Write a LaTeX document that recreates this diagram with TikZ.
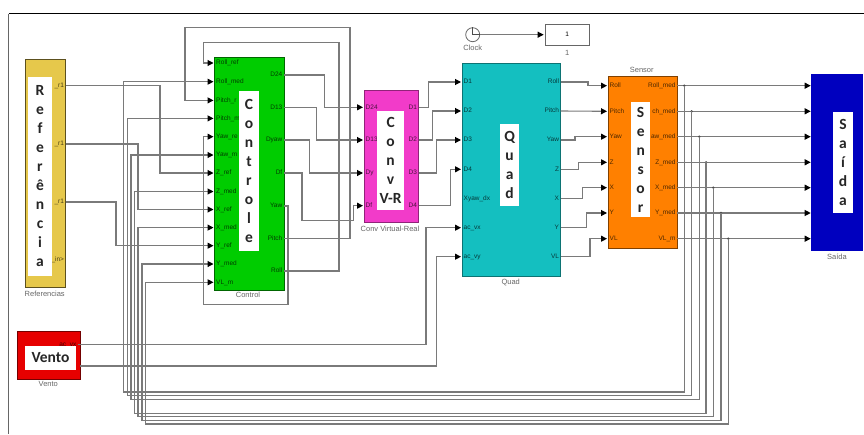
\documentclass[tikz,border=0pt]{standalone}
\usepackage{fontspec}
\setmainfont{Liberation Sans}
\newfontfamily\bigfont{Carlito}
\usetikzlibrary{arrows.meta}
\definecolor{cYel}{HTML}{E6C84B}
\definecolor{cGrn}{HTML}{00CC00}
\definecolor{cMag}{HTML}{F23BC9}
\definecolor{cTea}{HTML}{14BFC0}
\definecolor{cOra}{HTML}{FF8000}
\definecolor{cBlu}{HTML}{0000BF}
\definecolor{cRed}{HTML}{E60000}
\newcommand\blk[7]{% name, fill, x1,y1,x2,y2, edge
  \pgfmathsetmacro\bw{#5-#3}\pgfmathsetmacro\bh{#6-#4}
  \pgfmathsetmacro\bx{(#3+#5)/2}\pgfmathsetmacro\by{(#4+#6)/2}
  \node[blockbox,fill=#2,draw=#7,minimum width=\bw pt,minimum height=\bh pt] (#1) at (\bx,\by) {};}
\newcommand\wht[6]{% name, x1,y1,x2,y2, text
  \pgfmathsetmacro\bw{#4-#2}\pgfmathsetmacro\bh{#5-#3}
  \pgfmathsetmacro\bx{(#2+#4)/2}\pgfmathsetmacro\by{(#3+#5)/2}
  \node[whitebox,minimum width=\bw pt,minimum height=\bh pt,text width=\bw pt] (#1) at (\bx,\by) {#6};}
\newcommand\hvh[3]{\coordinate (chan) at (#2,0);\draw[wire] (#1) -| (chan |- #3) -- (#3);}
\newcommand\fbk[5]{% output, x, ybottom, xleft, port
  \coordinate (chanA) at (#2,#3);\coordinate (chanB) at (#4,#3);
  \fill[black!70] (chanA |- #1) circle (1.3);
  \draw[wire] (chanA |- #1) -- (chanA) -- (chanB) -- (chanB |- #5) -- (#5);}
\tikzset{
  blockbox/.style={inner sep=0,line width=0.8},
  whitebox/.style={fill=white,inner sep=0,align=center,font=\bigfont\bfseries\fontsize{15.5}{19}\selectfont,text=black!85},
  wire/.style={draw=black!52,line width=1.1,-{Triangle[length=6pt,width=6pt,color=black]},shorten >=1pt,line join=miter},
  portl/.style={anchor=west,inner ysep=0,inner xsep=1.5pt,font=\fontsize{6.5}{7}\selectfont,text height=4.6pt,text depth=1.2pt},
  portr/.style={anchor=east,inner ysep=0,inner xsep=1.5pt,font=\fontsize{6.5}{7}\selectfont,text height=4.6pt,text depth=1.2pt},
  title/.style={inner sep=0,font=\fontsize{7.5}{8}\selectfont,text=black!60},
}
\begin{document}
\begin{tikzpicture}[x=1pt,y=-1pt]
\useasboundingbox (0,0) rectangle (864,434);
\coordinate (fa) at (864,13.5);\coordinate (fb) at (8.7,13.5);\coordinate (fc) at (8.7,434);
\draw[black,line width=1] (fa) -- (fb);
\draw[black!60,line width=1] (fb) -- (fc);

% blocks
\blk{ref}{cYel}{25.3}{59.3}{65.7}{287.7}{black!60!cYel}
\blk{ven}{cRed}{17.7}{331.7}{80}{379}{black!50!cRed}
\blk{ctl}{cGrn}{214.5}{57}{284}{290}{black!50!cGrn}
\blk{cnv}{cMag}{364}{90.7}{418.7}{222.3}{black!40!cMag}
\blk{qua}{cTea}{462}{63.3}{560.7}{276}{black!40!cTea}
\blk{sen}{cOra}{608}{76}{677.3}{248.3}{black!50!cOra}
\blk{sai}{cBlu}{811.7}{74.3}{862.7}{250}{cBlu}

% port labels
\foreach \n/\y/\t in {r1/85.5/\_r1,r2/144/\_r1,r3/202/\_r1,r4/260/\_in>}
  \node[portr,text=black!70!cYel] (\n) at (65.7,\y) {\t};
\node[portr,text=black!70!cRed] (v1) at (78,344.5) {ac\_vx};
\coordinate (v2) at (80,366);
\foreach \n/\y/\t in {ci1/63/Roll\_ref,ci2/81.7/Roll\_med,ci3/100.4/Pitch\_r,ci4/118.4/Pitch\_m,ci5/136.7/Yaw\_re,ci6/155/Yaw\_m,ci7/173/Z\_ref,ci8/191.5/Z\_med,ci9/209.5/X\_ref,ci10/227.6/X\_med,ci11/245.7/Y\_ref,ci12/264/Y\_med,ci13/282.3/VL\_m}
  \node[portl,text=black!70!cGrn] (\n) at (214.5,\y) {\t};
\foreach \n/\y/\t in {co1/75/D24,co2/107.3/D13,co3/140/Dyaw,co4/173/Df,co5/206/Yaw,co6/238.5/Pitch,co7/271/Roll}
  \node[portr,text=black!70!cGrn] (\n) at (284,\y) {\t};
\foreach \n/\y/\t in {ni1/107.3/D24,ni2/140/D13,ni3/173/Dy,ni4/205.7/Df}
  \node[portl,text=black!70!cMag] (\n) at (364,\y) {\t};
\foreach \n/\y/\t in {no1/107.3/D1,no2/140/D2,no3/173/D3,no4/205.7/D4}
  \node[portr,text=black!70!cMag] (\n) at (418.7,\y) {\t};
\foreach \n/\y/\t in {qi1/82/D1,qi2/111/D2,qi3/140/D3,qi4/169.3/D4,qi5/198.7/Xyaw\_dx,qi6/227.7/ac\_vx,qi7/256.7/ac\_vy}
  \node[portl,text=black!70!cTea] (\n) at (462,\y) {\t};
\foreach \n/\y/\t in {qo1/82/Roll,qo2/111/Pitch,qo3/140/Yaw,qo4/169.3/Z,qo5/198.7/X,qo6/227.7/Y,qo7/256.7/VL}
  \node[portr,text=black!70!cTea] (\n) at (560.7,\y) {\t};
\foreach \n/\y/\t in {si1/85.7/Roll,si2/111.3/Pitch,si3/136.7/Yaw,si4/162.3/Z,si5/187.7/X,si6/213/Y,si7/238.7/VL}
  \node[portl,text=black!70!cOra] (\n) at (608,\y) {\t};
\foreach \n/\y/\t in {so1/85.7/Roll\_med,so2/111.3/ch\_med,so3/136.7/aw\_med,so4/162.3/Z\_med,so5/187.7/X\_med,so6/213/Y\_med,so7/238.7/VL\_m}
  \node[portr,text=black!70!cOra] (\n) at (677.3,\y) {\t};
\foreach \n/\y in {ai1/85.7,ai2/111.3,ai3/136.7,ai4/162.3,ai5/187.7,ai6/213,ai7/238.7}
  \coordinate (\n) at (811.7,\y);

% white captions
\wht{wref}{28.3}{77.3}{51.7}{275.7}{R\\e\\f\\e\\r\\ê\\n\\c\\i\\a}
\wht{wven}{25}{346}{76}{370}{Vento}
\wht{wctl}{239}{91.3}{259}{250.7}{C\\o\\n\\t\\r\\o\\l\\e}
\wht{wcnv}{377.3}{110.7}{404}{210}{C\\o\\n\\v\\V-R}
\wht{wqua}{500}{124.3}{519.3}{206}{Q\\u\\a\\d}
\wht{wsen}{631}{101.7}{650.3}{217.3}{S\\e\\n\\s\\o\\r}
\wht{wsai}{833.3}{112}{852.7}{212.7}{S\\a\\í\\d\\a}

% block titles
\node[title] (tref) at (44.7,293.7) {Referencias};
\node[title] (tven) at (48.3,384) {Vento};
\node[title] (tctl) at (248,295.3) {Control};
\node[title] (tcnv) at (390,229) {Conv Virtual-Real};
\node[title] (tqua) at (510.7,282) {Quad};
\node[title] (tsen) at (641.7,70) {Sensor};
\node[title] (tsai) at (837,256.7) {Saída};

% clock and display
\node[circle,draw=black!60,fill=white,line width=0.8,minimum size=14pt,inner sep=0] (clk) at (472.7,34.7) {};
\draw[black!70,line width=0.6] (clk.north) -- (clk.center) -- (clk.east);
\node[title] (tclk) at (472.7,48) {Clock};
\node[draw=black!60,fill=white,line width=0.8,minimum width=44.3pt,minimum height=21.3pt,inner sep=0,font=\fontsize{6.5}{7}\selectfont] (dsp) at (567.2,34.7) {1};
\node[title] (tdsp) at (567.2,52.5) {1};
\draw[wire] (clk.east) -- (dsp.west);

% reference wires
\hvh{r1.east}{160}{ci7.west}
\hvh{r2.east}{138}{ci9.west}
\hvh{r3.east}{116}{ci11.west}

% control to converter
\hvh{co1.east}{324.3}{ni1.west}
\hvh{co2.east}{316.7}{ni2.west}
\hvh{co3.east}{309.3}{ni3.west}
\coordinate (dfa) at (302,220.7);\coordinate (dfb) at (353.3,220.7);
\draw[wire] (co4.east) -- (dfa |- co4.east) -- (dfa) -- (dfb) -- (dfb |- ni4.west) -- (ni4.west);

% control loop-backs
\coordinate (ya) at (288,304.7);\coordinate (yb) at (203.3,304.7);
\draw[wire] (co5.east) -- (ya |- co5.east) -- (ya) -- (yb) -- (yb |- ci5.west) -- (ci5.west);
\coordinate (pa) at (350,27.7);\coordinate (pb) at (185,27.7);
\draw[wire] (co6.east) -- (pa |- co6.east) -- (pa) -- (pb) -- (pb |- ci3.west) -- (ci3.west);
\coordinate (ra) at (339,42.3);\coordinate (rb) at (203.3,42.3);
\draw[wire] (co7.east) -- (ra |- co7.east) -- (ra) -- (rb) -- (rb |- ci1.west) -- (ci1.west);

% converter to quad
\hvh{no1.east}{428.3}{qi1.west}
\hvh{no2.east}{432.7}{qi2.west}
\hvh{no3.east}{436.7}{qi3.west}
\hvh{no4.east}{450.7}{qi4.west}

% wind to quad
\hvh{v1.east}{426}{qi6.west}
\hvh{v2}{436.7}{qi7.west}

% quad to sensor
\hvh{qo1.east}{588}{si1.west}
\draw[wire] (qo2.east) -- (si2.west);
\hvh{qo3.east}{575}{si3.west}
\hvh{qo4.east}{578.3}{si4.west}
\hvh{qo5.east}{582.7}{si5.west}
\hvh{qo6.east}{586.7}{si6.west}
\hvh{qo7.east}{590}{si7.west}

% sensor to output
\foreach \i in {1,...,7} \draw[wire] (so\i.east) -- (ai\i);

% feedback
\fbk{so1.east}{684.3}{392}{123.7}{ci2.west}
\fbk{so2.east}{691.7}{395.3}{127.3}{ci4.west}
\fbk{so3.east}{699.3}{399.3}{131}{ci6.west}
\fbk{so4.east}{706}{413.3}{134.3}{ci8.west}
\fbk{so5.east}{713.3}{416.7}{138}{ci10.west}
\fbk{so6.east}{721}{420.7}{142}{ci12.west}
\fbk{so7.east}{728.3}{424}{145.7}{ci13.west}
\end{tikzpicture}
\end{document}
